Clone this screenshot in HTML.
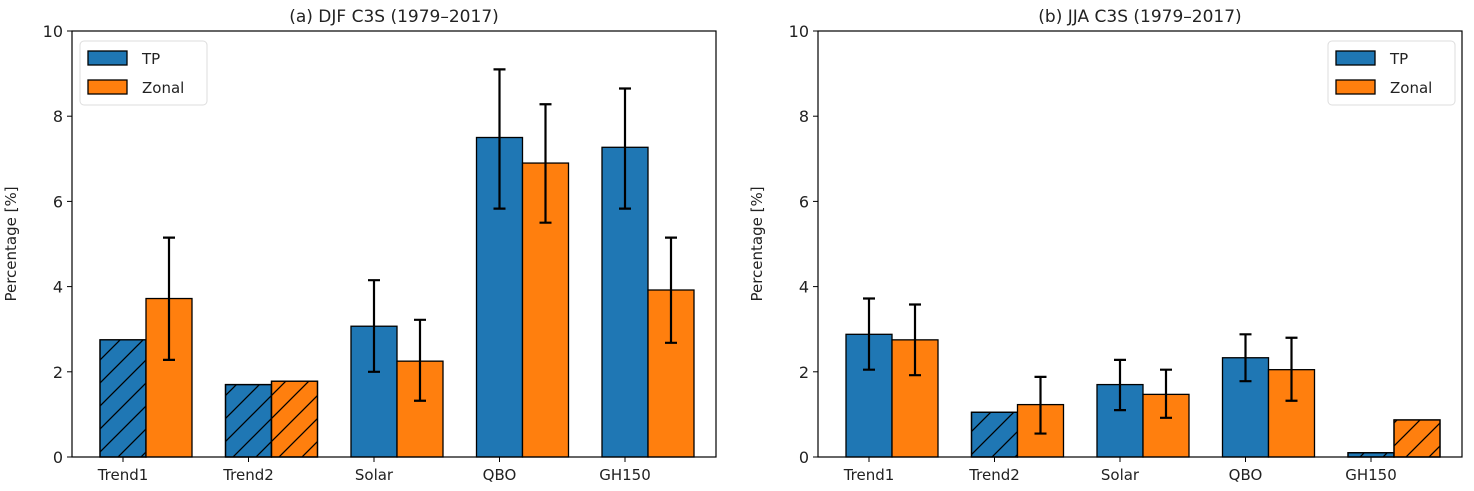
<!DOCTYPE html>
<html><head><meta charset="utf-8"><style>
body{margin:0;background:#fff}
svg{display:block;font-family:"DejaVu Sans","Liberation Sans",sans-serif}
</style></head><body>
<svg id="c" width="1474" height="491">
<defs>
<pattern id="h" patternUnits="userSpaceOnUse" width="23" height="23"><path d="M-2,25 L25,-2 M-2,2 L2,-2 M21,25 L25,21" stroke="#000" stroke-width="1.3"/></pattern>
</defs>
</svg>
<script>
const categories=["Trend1","Trend2","Solar","QBO","GH150"];
const djfTP=[2.75,1.7,3.07,7.5,7.27];
const djfTPlo=[null,null,2.0,5.83,5.83];
const djfTPhi=[null,null,4.15,9.1,8.65];
const djfZ=[3.72,1.78,2.25,6.9,3.92];
const djfZlo=[2.28,null,1.32,5.5,2.68];
const djfZhi=[5.15,null,3.22,8.28,5.15];
const jjaTP=[2.88,1.05,1.7,2.33,0.1];
const jjaTPlo=[2.05,null,1.1,1.78,null];
const jjaTPhi=[3.72,null,2.28,2.88,null];
const jjaZ=[2.75,1.23,1.47,2.05,0.87];
const jjaZlo=[1.92,0.55,0.92,1.32,null];
const jjaZhi=[3.58,1.88,2.05,2.8,null];
const yTicks=[0,2,4,6,8,10];
const NS="http://www.w3.org/2000/svg";
const svgEl=document.getElementById('c');
function mk(t,a,p){const e=document.createElementNS(NS,t);for(const k in a)e.setAttribute(k,a[k]);(p||svgEl).appendChild(e);return e;}
const yTop=31,yBot=457;
const y=v=>yBot-(v/10)*(yBot-yTop);
function panel(x0,x1,title,tp,tplo,tphi,z,zlo,zhi,legX,pname){
  const g=mk('g',{});
  
  
  const xc=i=>x0+51+i*125.5;
  const bw=46;
  mk('text',{x:(x0+x1)/2,y:22,'text-anchor':'middle','font-size':17,fill:'#222'},g).textContent=title;
  const yt=mk('text',{x:0,y:0,'text-anchor':'middle','font-size':15,fill:'#222',transform:`translate(${x0-56},${(yTop+yBot)/2}) rotate(-90)`},g);
  yt.textContent='Percentage [%]';
  
  
  yTicks.forEach(t=>{
    mk('line',{x1:x0-5,x2:x0,y1:y(t),y2:y(t),stroke:'#000'},g);
    const tx=mk('text',{x:x0-9,y:y(t)+6,'text-anchor':'end','font-size':16,fill:'#222'},g);
    tx.textContent=t;
    
    
  });
  function bar(i,v,lo,hi,col,off,nm){
    const bx=xc(i)-bw/2+off;
    const r=mk('rect',{x:bx,y:y(v),width:bw,height:yBot-y(v),fill:col,stroke:'#000','stroke-width':1.3},g);
    
    
    if(lo==null){mk('rect',{x:bx,y:y(v),width:bw,height:yBot-y(v),fill:'url(#h)',stroke:'#000','stroke-width':1.3},g);}
    else{
      const cx=bx+bw/2;
      const e=mk('path',{d:`M${cx},${y(lo)}V${y(hi)}M${cx-6},${y(lo)}H${cx+6}M${cx-6},${y(hi)}H${cx+6}`,stroke:'#000','stroke-width':2.2,fill:'none'},g);
      
      
    }
  }
  categories.forEach((c,i)=>{
    bar(i,tp[i],tplo[i],tphi[i],'#1f77b4',0,'bar-tp-'+c.toLowerCase());
    bar(i,z[i],zlo[i],zhi[i],'#ff7f0e',bw,'bar-zonal-'+c.toLowerCase());
    mk('line',{x1:xc(i),x2:xc(i),y1:yBot,y2:yBot+5,stroke:'#000'},g);
    const tx=mk('text',{x:xc(i),y:yBot+23,'text-anchor':'middle','font-size':15,fill:'#222'},g);
    tx.textContent=c;
    
    
  });
  mk('rect',{x:x0,y:yTop,width:x1-x0,height:yBot-yTop,fill:'none',stroke:'#000','stroke-width':1.2},g);
  const lg=mk('g',{},g);
  
  
  mk('rect',{x:legX,y:41,width:127,height:64,rx:4,fill:'#fff',stroke:'#ddd'},lg);
  [['TP','#1f77b4'],['Zonal','#ff7f0e']].forEach((s,k)=>{
    mk('rect',{x:legX+8,y:51+k*29,width:39,height:14,fill:s[1],stroke:'#000','stroke-width':1.3},lg);
    const t=mk('text',{x:legX+62,y:64+k*29,'font-size':15,fill:'#222'},lg);
    t.textContent=s[0];
    
    
  });
}
panel(72,716,'(a) DJF C3S (1979–2017)',djfTP,djfTPlo,djfTPhi,djfZ,djfZlo,djfZhi,80,'panel-djf');
panel(818,1462,'(b) JJA C3S (1979–2017)',jjaTP,jjaTPlo,jjaTPhi,jjaZ,jjaZlo,jjaZhi,1328,'panel-jja');
</script>
</body></html>
